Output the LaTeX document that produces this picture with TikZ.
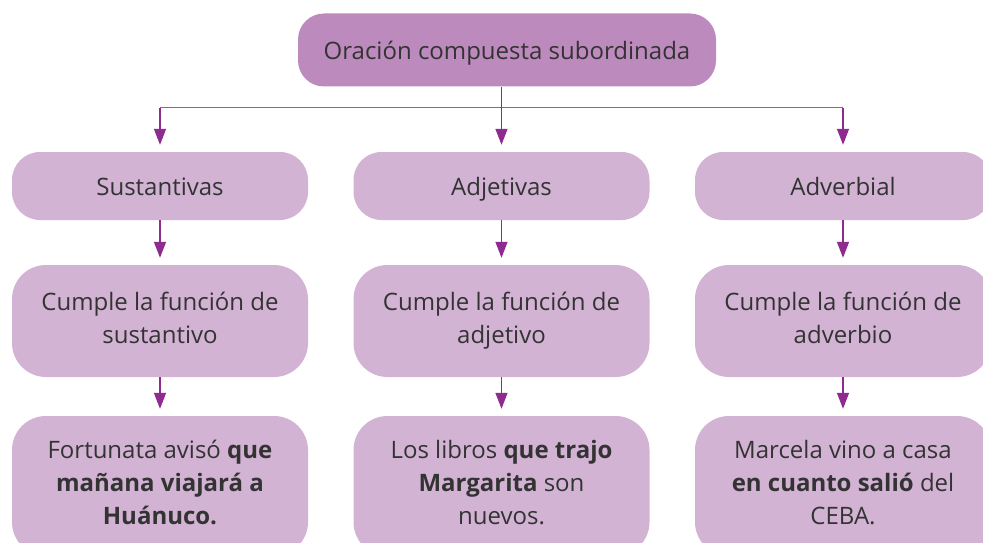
\documentclass[tikz,border=0pt]{standalone}
\usepackage{fontspec}
\setmainfont{Open Sans}
\usetikzlibrary{arrows.meta,positioning}
\definecolor{rootfill}{HTML}{BC8ABC}
\definecolor{boxfill}{HTML}{D3B3D4}
\definecolor{linkcol}{HTML}{8E2A90}
\definecolor{textcol}{HTML}{333333}
\newcommand{\boxstrut}[1][33pt]{\rule[-7pt]{0pt}{#1}}
\begin{document}
\begin{tikzpicture}[
            x=1pt, y=-1pt,
            every node/.style={align=center, text=textcol, inner sep=0pt,
                font=\fontsize{24}{33}\selectfont,
                execute at begin node=\boxstrut, execute at end node=\boxstrut},
            root/.style={fill=rootfill, rounded corners=26pt, minimum width=418pt, minimum height=73pt},
            kind/.style={fill=boxfill, rounded corners=28pt, minimum width=296pt, minimum height=68pt},
            role/.style={fill=boxfill, rounded corners=34pt, minimum width=296pt, minimum height=112pt,
                execute at begin node=\boxstrut[45pt]},
            sample/.style={fill=boxfill, rounded corners=34pt, minimum width=296pt, minimum height=140pt,
                execute at begin node=\boxstrut[39pt]},
            link/.style={draw=linkcol, line width=1.4pt, -{Triangle[width=12pt,length=16pt]}, shorten >=7pt},
            bar/.style={draw=linkcol!80, line width=1.2pt}
            ]
            \useasboundingbox (0,0) rectangle (983,543);
            \clip (0,0) rectangle (983,543);
            \node[root] (top) at (507,50) {Oración compuesta subordinada};
            \node[kind] (sus) at (160,186) {Sustantivas};
            \node[kind] (adj) at (501.5,186) {Adjetivas};
            \node[kind] (adv) at (843,186) {Adverbial};
            \node[role] (sus2) at (160,321) {Cumple la función de\\sustantivo};
            \node[role] (adj2) at (501.5,321) {Cumple la función de\\adjetivo};
            \node[role] (adv2) at (843,321) {Cumple la función de\\adverbio};
            \node[sample] (sus3) at (160,486) {Fortunata avisó \textbf{que}\\\textbf{mañana viajará a}\\\textbf{Huánuco.}};
            \node[sample] (adj3) at (501.5,486) {Los libros \textbf{que trajo}\\\textbf{Margarita} son\\nuevos.};
            \node[sample] (adv3) at (843,486) {Marcela vino a casa\\\textbf{en cuanto salió} del\\CEBA.};
            \coordinate (bus) at (501.5,107.5);
            \draw[bar] (bus -| sus.north) -- (bus -| adv.north);
            \draw[link] (top.south -| adj.north) -- (adj.north);
            \draw[link] (bus -| sus.north) -- (sus.north);
            \draw[link] (bus -| adv.north) -- (adv.north);
            \foreach \a/\b in {sus/sus2, adj/adj2, adv/adv2, sus2/sus3, adj2/adj3, adv2/adv3}
                \draw[link] (\a.south) -- (\b.north);
        \end{tikzpicture}
\end{document}
